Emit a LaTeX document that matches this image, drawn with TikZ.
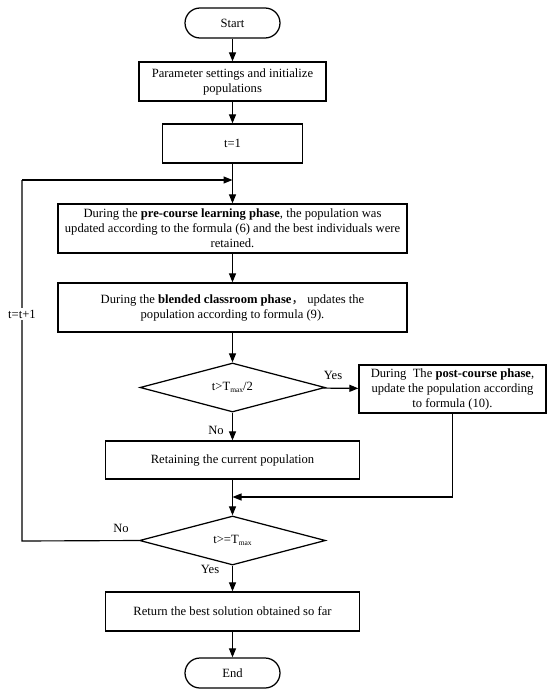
\documentclass[tikz,border=0pt]{standalone}
\usepackage{fontspec}
\setmainfont{Liberation Serif}
\newfontfamily\cjk{Noto Sans CJK SC}
\usetikzlibrary{shapes.geometric,arrows.meta}
\newcommand{\mysub}[1]{\raisebox{-2pt}{\fontsize{7.5}{8}\selectfont #1}}
\begin{document}
\begin{tikzpicture}[x=1pt,y=-1pt,
 font=\fontsize{12.6}{15}\selectfont,
 box/.style={draw,line width=1.25pt,rectangle,inner sep=0pt,align=center},
 term/.style={draw,line width=1.25pt,rectangle,rounded corners=15pt,minimum width=95pt,minimum height=30pt,inner sep=0pt},
 dec/.style={draw,line width=1.25pt,diamond,aspect=3.8,inner sep=0pt},
 arr/.style={line width=1.15pt,-{Triangle[length=9pt,width=7pt]}},
 ln/.style={line width=1.15pt},
 lbl/.style={inner sep=1pt}]
\useasboundingbox[fill=white] (0,0) rectangle (550,693);

\node[term] (start) at (232.5,23) {Start};
\node[box,minimum width=187pt,minimum height=39pt] (param) at (232.5,81.5) {Parameter settings and initialize\\populations};
\node[box,minimum width=140pt,minimum height=39pt] (t1) at (232.5,143.5) {t=1};
\node[box,minimum width=349pt,minimum height=49pt] (pre) at (232.5,228.5) {During the \textbf{pre-course learning phase}, the population was\\updated according to the formula (6) and the best individuals were\\retained.};
\node[box,minimum width=349pt,minimum height=49pt] (blend) at (232.5,307.5) {During the \textbf{blended classroom phase}{\cjk ，}\ updates the\\population according to formula (9).};
\node[dec,minimum width=185pt,minimum height=49pt] (d1) at (232.5,387.5) {t>T\mysub{max}/2};
\node[box,minimum width=187pt,minimum height=48pt] (post) at (452.5,389) {During\ \ The \textbf{post-course phase},\\update the population according\\to formula (10).};
\node[box,minimum width=254pt,minimum height=38pt] (retain) at (232.5,460) {Retaining the current population};
\node[dec,minimum width=186pt,minimum height=49pt] (d2) at (232.5,540.5) {t>=T\mysub{max}};
\node[box,minimum width=254pt,minimum height=39pt] (ret) at (232.5,611.5) {Return the best solution obtained so far};
\node[term] (end) at (232.5,673) {End};

\coordinate (loopin) at (232.5,180);
\coordinate (loopbl) at (22,541);
\coordinate (looptl) at (22,180);
\coordinate (mergein) at (232.5,497);
\coordinate (mergebr) at (post.south |- mergein);

\draw[arr] (start) -- (param);
\draw[arr] (param) -- (t1);
\draw[arr] (t1) -- (pre);
\draw[arr] (pre) -- (blend);
\draw[arr] (blend) -- (d1);
\draw[arr] (d1) -- (post);
\draw[arr] (d1) -- (retain);
\draw[arr] (retain) -- (d2);
\draw[arr] (d2) -- (ret);
\draw[arr] (ret) -- (end);
\draw[ln] (d2.west) -- (loopbl) -- (looptl);
\draw[arr] (looptl) -- (loopin);
\draw[ln] (post.south) -- (mergebr);
\draw[arr] (mergebr) -- (mergein);

\node[lbl] (yes1) at (333,375) {Yes};
\node[lbl] (no1) at (216,430) {No};
\node[lbl] (no2) at (121,528) {No};
\node[lbl] (yes2) at (210,569) {Yes};
\node[lbl,fill=white,inner sep=2pt] (tt) at (22,314) {t=t+1};
\end{tikzpicture}
\end{document}
